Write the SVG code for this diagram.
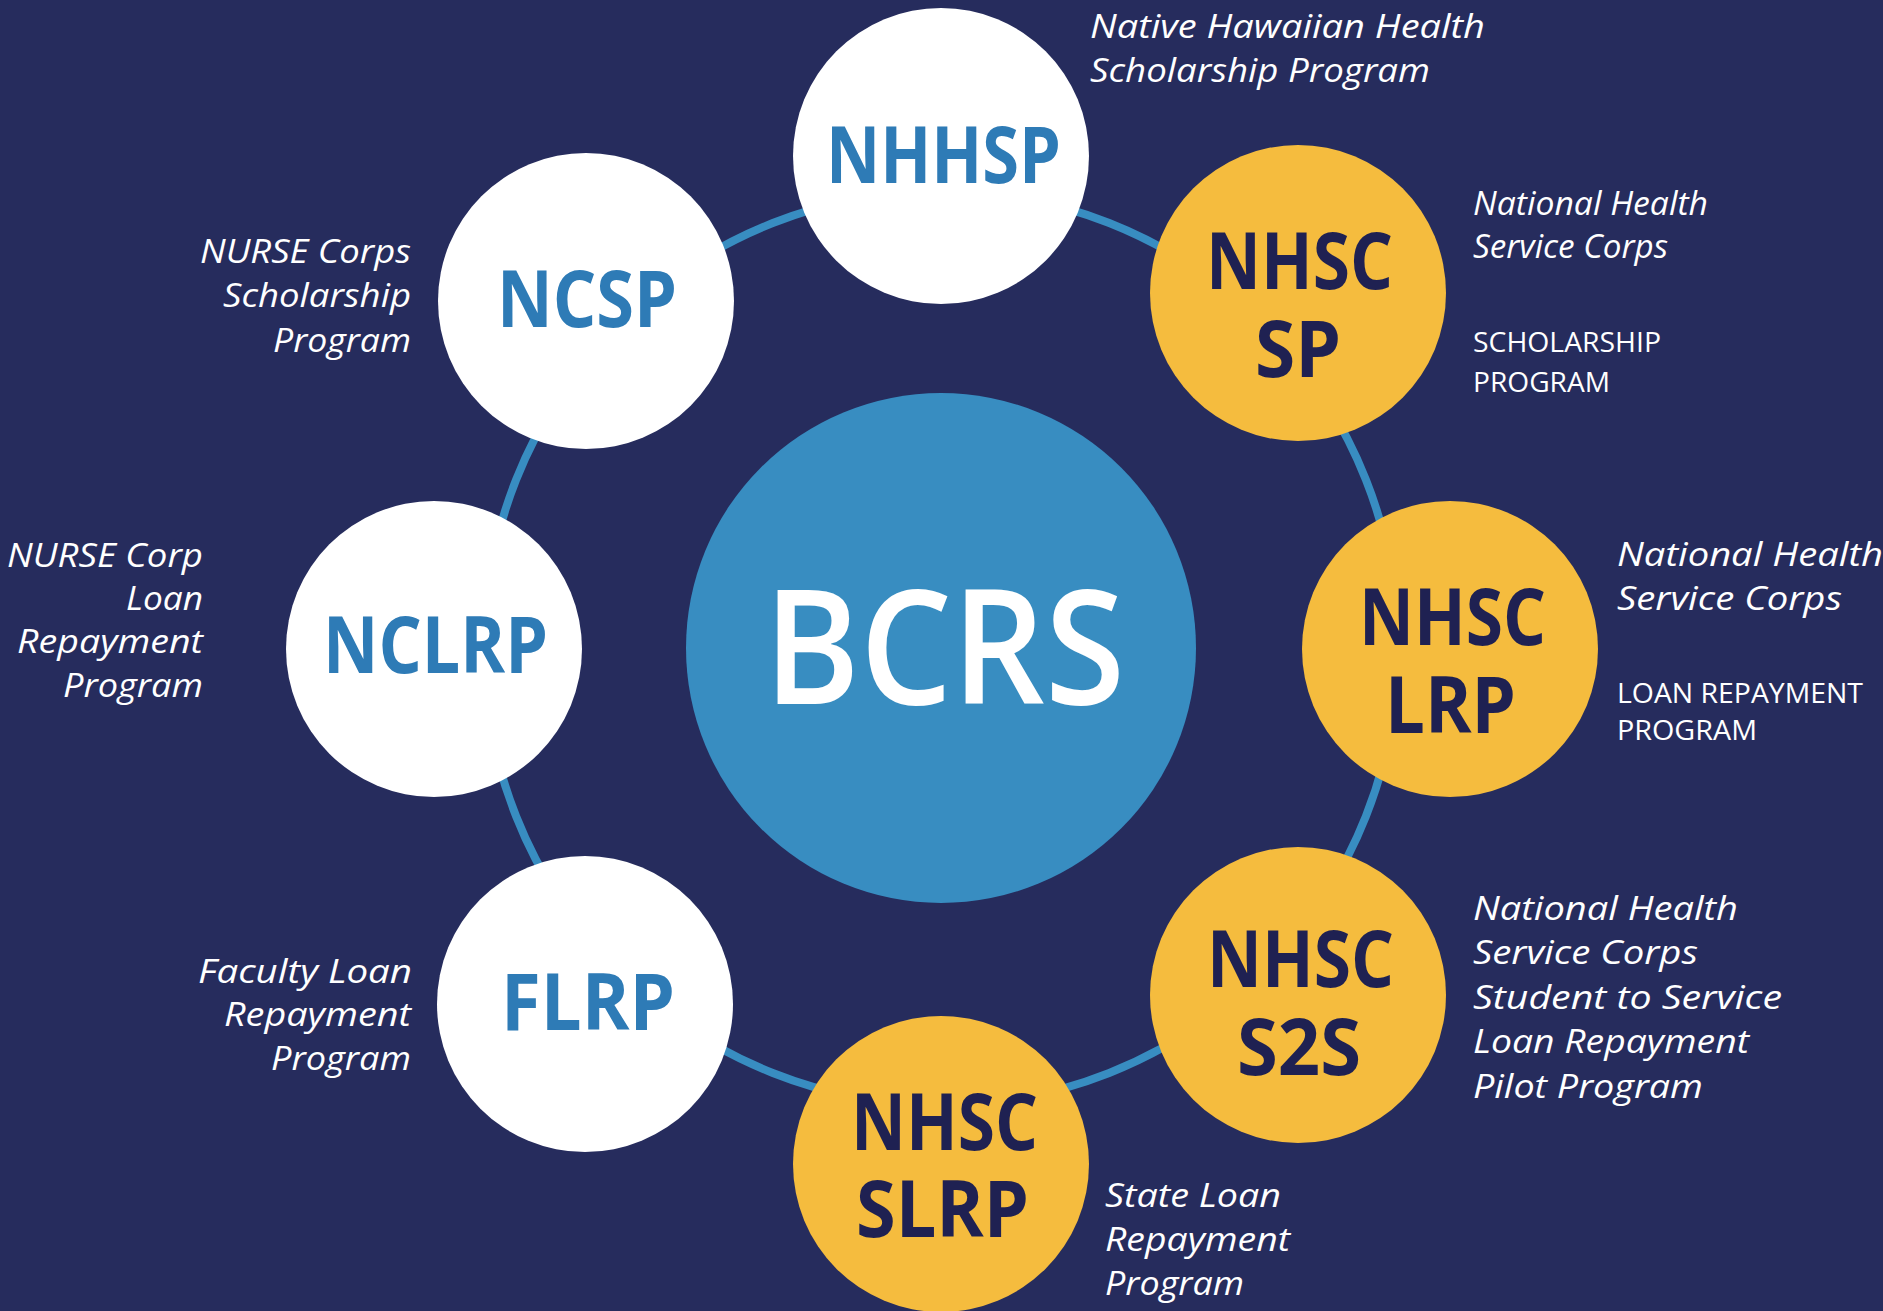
<svg xmlns="http://www.w3.org/2000/svg" width="1883" height="1311" viewBox="0 0 1883 1311">
<style>
.bg{fill:#262C5D}
.ring{fill:none;stroke:#388DC1;stroke-width:8}
.hub{fill:#388DC1}
.wc{fill:#FFFFFF}
.yc{fill:#F5BC3E}
.lbl{font-family:"Open Sans","Noto Sans","DejaVu Sans",sans-serif;font-weight:700;font-size:78px}
.lb{fill:#2E7BB6}
.ld{fill:#1F2152}
.hubt{font-family:"Open Sans","Noto Sans","DejaVu Sans",sans-serif;font-weight:600;font-size:160px;fill:#FFFFFF}
.d{font-family:"Open Sans","Noto Sans","DejaVu Sans",sans-serif;font-style:italic;font-size:33px;fill:#FFFFFF}
.u{font-family:"Open Sans","Noto Sans","DejaVu Sans",sans-serif;font-size:28px;fill:#FFFFFF}
</style>
<rect class="bg" x="0" y="0" width="1883" height="1311"/>
<g id="connectors">
<circle class="ring" cx="941" cy="648" r="457"/>
</g>
<g id="BCRS">
<circle class="hub" cx="941" cy="648" r="255"/>
<text class="hubt" x="764" y="704" textLength="361" lengthAdjust="spacingAndGlyphs">BCRS</text>
</g>
<g id="NHHSP">
<circle class="wc" cx="941" cy="156" r="148"/>
<text class="lbl lb" x="826" y="183" textLength="235" lengthAdjust="spacingAndGlyphs">NHHSP</text>
<text class="d" x="1090" y="38" textLength="395" lengthAdjust="spacingAndGlyphs">Native Hawaiian Health</text>
<text class="d" x="1090" y="82" textLength="340" lengthAdjust="spacingAndGlyphs">Scholarship Program</text>
</g>
<g id="NHSC-SP">
<circle class="yc" cx="1298" cy="293" r="148"/>
<text class="lbl ld" x="1206" y="289" textLength="187" lengthAdjust="spacingAndGlyphs">NHSC</text>
<text class="lbl ld" x="1255" y="377" textLength="86" lengthAdjust="spacingAndGlyphs">SP</text>
<text class="d" x="1473" y="215" textLength="235" lengthAdjust="spacingAndGlyphs">National Health</text>
<text class="d" x="1473" y="258" textLength="195" lengthAdjust="spacingAndGlyphs">Service Corps</text>
<text class="u" x="1473" y="352" textLength="188" lengthAdjust="spacingAndGlyphs">SCHOLARSHIP</text>
<text class="u" x="1473" y="392" textLength="137" lengthAdjust="spacingAndGlyphs">PROGRAM</text>
</g>
<g id="NHSC-LRP">
<circle class="yc" cx="1450" cy="649" r="148"/>
<text class="lbl ld" x="1359" y="645" textLength="187" lengthAdjust="spacingAndGlyphs">NHSC</text>
<text class="lbl ld" x="1385" y="733" textLength="131" lengthAdjust="spacingAndGlyphs">LRP</text>
<text class="d" x="1617" y="566" textLength="266" lengthAdjust="spacingAndGlyphs">National Health</text>
<text class="d" x="1617" y="610" textLength="225" lengthAdjust="spacingAndGlyphs">Service Corps</text>
<text class="u" x="1617" y="703" font-size="30" textLength="246" lengthAdjust="spacingAndGlyphs">LOAN REPAYMENT</text>
<text class="u" x="1617" y="740" font-size="30" textLength="140" lengthAdjust="spacingAndGlyphs">PROGRAM</text>
</g>
<g id="NHSC-S2S">
<circle class="yc" cx="1298" cy="995" r="148"/>
<text class="lbl ld" x="1207" y="987" textLength="187" lengthAdjust="spacingAndGlyphs">NHSC</text>
<text class="lbl ld" x="1237" y="1075" textLength="124" lengthAdjust="spacingAndGlyphs">S2S</text>
<text class="d" x="1473" y="920" textLength="265" lengthAdjust="spacingAndGlyphs">National Health</text>
<text class="d" x="1473" y="964" textLength="225" lengthAdjust="spacingAndGlyphs">Service Corps</text>
<text class="d" x="1473" y="1009" textLength="309" lengthAdjust="spacingAndGlyphs">Student to Service</text>
<text class="d" x="1473" y="1053" textLength="276" lengthAdjust="spacingAndGlyphs">Loan Repayment</text>
<text class="d" x="1473" y="1098" textLength="230" lengthAdjust="spacingAndGlyphs">Pilot Program</text>
</g>
<g id="NHSC-SLRP">
<circle class="yc" cx="941" cy="1164" r="148"/>
<text class="lbl ld" x="851" y="1150" textLength="187" lengthAdjust="spacingAndGlyphs">NHSC</text>
<text class="lbl ld" x="856" y="1237" textLength="173" lengthAdjust="spacingAndGlyphs">SLRP</text>
<text class="d" x="1105" y="1207" textLength="176" lengthAdjust="spacingAndGlyphs">State Loan</text>
<text class="d" x="1105" y="1251" textLength="185" lengthAdjust="spacingAndGlyphs">Repayment</text>
<text class="d" x="1105" y="1295" textLength="139" lengthAdjust="spacingAndGlyphs">Program</text>
</g>
<g id="FLRP">
<circle class="wc" cx="585" cy="1004" r="148"/>
<text class="lbl lb" x="501" y="1030" textLength="174" lengthAdjust="spacingAndGlyphs">FLRP</text>
<text class="d" x="198" y="983" textLength="214" lengthAdjust="spacingAndGlyphs">Faculty Loan</text>
<text class="d" x="224" y="1026" textLength="187" lengthAdjust="spacingAndGlyphs">Repayment</text>
<text class="d" x="271" y="1070" textLength="140" lengthAdjust="spacingAndGlyphs">Program</text>
</g>
<g id="NCLRP">
<circle class="wc" cx="434" cy="649" r="148"/>
<text class="lbl lb" x="323" y="673" textLength="225" lengthAdjust="spacingAndGlyphs">NCLRP</text>
<text class="d" x="7" y="567" textLength="196" lengthAdjust="spacingAndGlyphs">NURSE Corp</text>
<text class="d" x="126" y="610" textLength="77" lengthAdjust="spacingAndGlyphs">Loan</text>
<text class="d" x="17" y="653" textLength="186" lengthAdjust="spacingAndGlyphs">Repayment</text>
<text class="d" x="63" y="697" textLength="140" lengthAdjust="spacingAndGlyphs">Program</text>
</g>
<g id="NCSP">
<circle class="wc" cx="586" cy="301" r="148"/>
<text class="lbl lb" x="497" y="327" textLength="180" lengthAdjust="spacingAndGlyphs">NCSP</text>
<text class="d" x="200" y="263" textLength="211" lengthAdjust="spacingAndGlyphs">NURSE Corps</text>
<text class="d" x="223" y="307" textLength="188" lengthAdjust="spacingAndGlyphs">Scholarship</text>
<text class="d" x="273" y="352" textLength="138" lengthAdjust="spacingAndGlyphs">Program</text>
</g>
</svg>
